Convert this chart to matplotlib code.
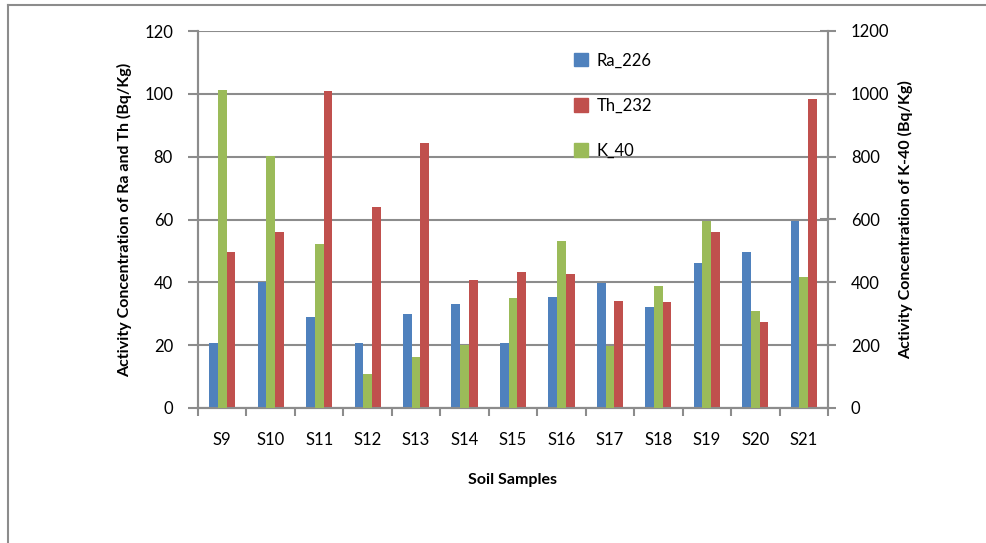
import matplotlib.pyplot as plt
import numpy as np
from matplotlib.patches import Patch
from matplotlib.lines import Line2D

plt.rcParams['font.family'] = ['Lato', 'DejaVu Sans']

samples = ['S9', 'S10', 'S11', 'S12', 'S13', 'S14', 'S15',
           'S16', 'S17', 'S18', 'S19', 'S20', 'S21']
ra_226 = [20.6, 40.0, 28.9, 20.6, 29.9, 33.0, 20.6, 35.2, 39.8, 32.1, 46.3, 49.8, 59.4]
th_232 = [49.8, 56.1, 101.0, 64.1, 84.4, 40.7, 43.2, 42.6, 34.2, 33.6, 56.1, 27.3, 98.4]
k_40 = [1011, 802, 521, 107, 161, 200, 349, 532, 196, 387, 594, 309, 418]

BLUE = '#4F81BD'
RED = '#C0504D'
GREEN = '#9BBB59'
GREY = '#8C8C8C'
FS = 12

fig = plt.figure(figsize=(9.87, 5.43), dpi=100)
ax = fig.add_axes([198 / 987, 1 - 408 / 543, 630 / 987, 377 / 543])
ax2 = ax.twinx()

x = np.arange(len(samples))
w = 0.18
ax.bar(x - w, ra_226, w, color=BLUE, label='Ra_226', zorder=3)
ax.bar(x + w, th_232, w, color=RED, label='Th_232', zorder=3)
ax2.bar(x, k_40, w, color=GREEN, label='K_40', zorder=3)

ax.set_xlim(-0.5, len(samples) - 0.5)
ax.set_ylim(0, 120)
ax2.set_ylim(0, 1200)
ax.set_yticks(range(0, 121, 20))
ax2.set_yticks(range(0, 1201, 200))

ax.set_axisbelow(True)
ax.yaxis.grid(True, color=GREY, linewidth=1.5)

ax.set_xticks(x)
ax.set_xticklabels(samples)
ax.set_xticks(np.arange(-0.5, len(samples)), minor=True)
ax.tick_params(axis='x', which='major', length=0, pad=17, labelsize=FS)
ax.tick_params(axis='x', which='minor', length=6, width=1.5, color=GREY, direction='out')
ax.tick_params(axis='y', length=7, width=1.5, color=GREY, pad=11, labelsize=FS)
ax2.tick_params(axis='y', length=11, width=1.5, color=GREY, direction='inout', pad=11, labelsize=FS)

for a in (ax, ax2):
    a.spines['top'].set_visible(False)
    for s in ('left', 'right', 'bottom'):
        a.spines[s].set_color(GREY)
        a.spines[s].set_linewidth(1.5)

ax.set_ylabel('Activity Concentration of Ra and Th (Bq/Kg)', fontsize=11.5,
              fontweight='bold', labelpad=9)
ax2.set_ylabel('Activity Concentration of K-40 (Bq/Kg)', fontsize=11.5,
               fontweight='bold', labelpad=6)
ax.set_xlabel('Soil Samples', fontsize=11.5, fontweight='bold', labelpad=18)

handles = [Patch(color=BLUE), Patch(color=RED), Patch(color=GREEN)]
ax2.legend(handles, ['Ra_226', 'Th_232', 'K_40'], loc='upper left',
           bbox_to_anchor=(0.584, 0.965), frameon=False, fontsize=FS,
           handlelength=0.85, handleheight=0.85, handletextpad=0.5,
           labelspacing=1.75, borderpad=0)

# outer chart-area border (left and top edges)
fig.add_artist(Line2D([8 / 987, 8 / 987], [0, 1 - 5 / 543], color=GREY, linewidth=1.5))
fig.add_artist(Line2D([8 / 987, 1], [1 - 5 / 543, 1 - 5 / 543], color=GREY, linewidth=1.5))

fig.savefig('out.png', dpi=100)
